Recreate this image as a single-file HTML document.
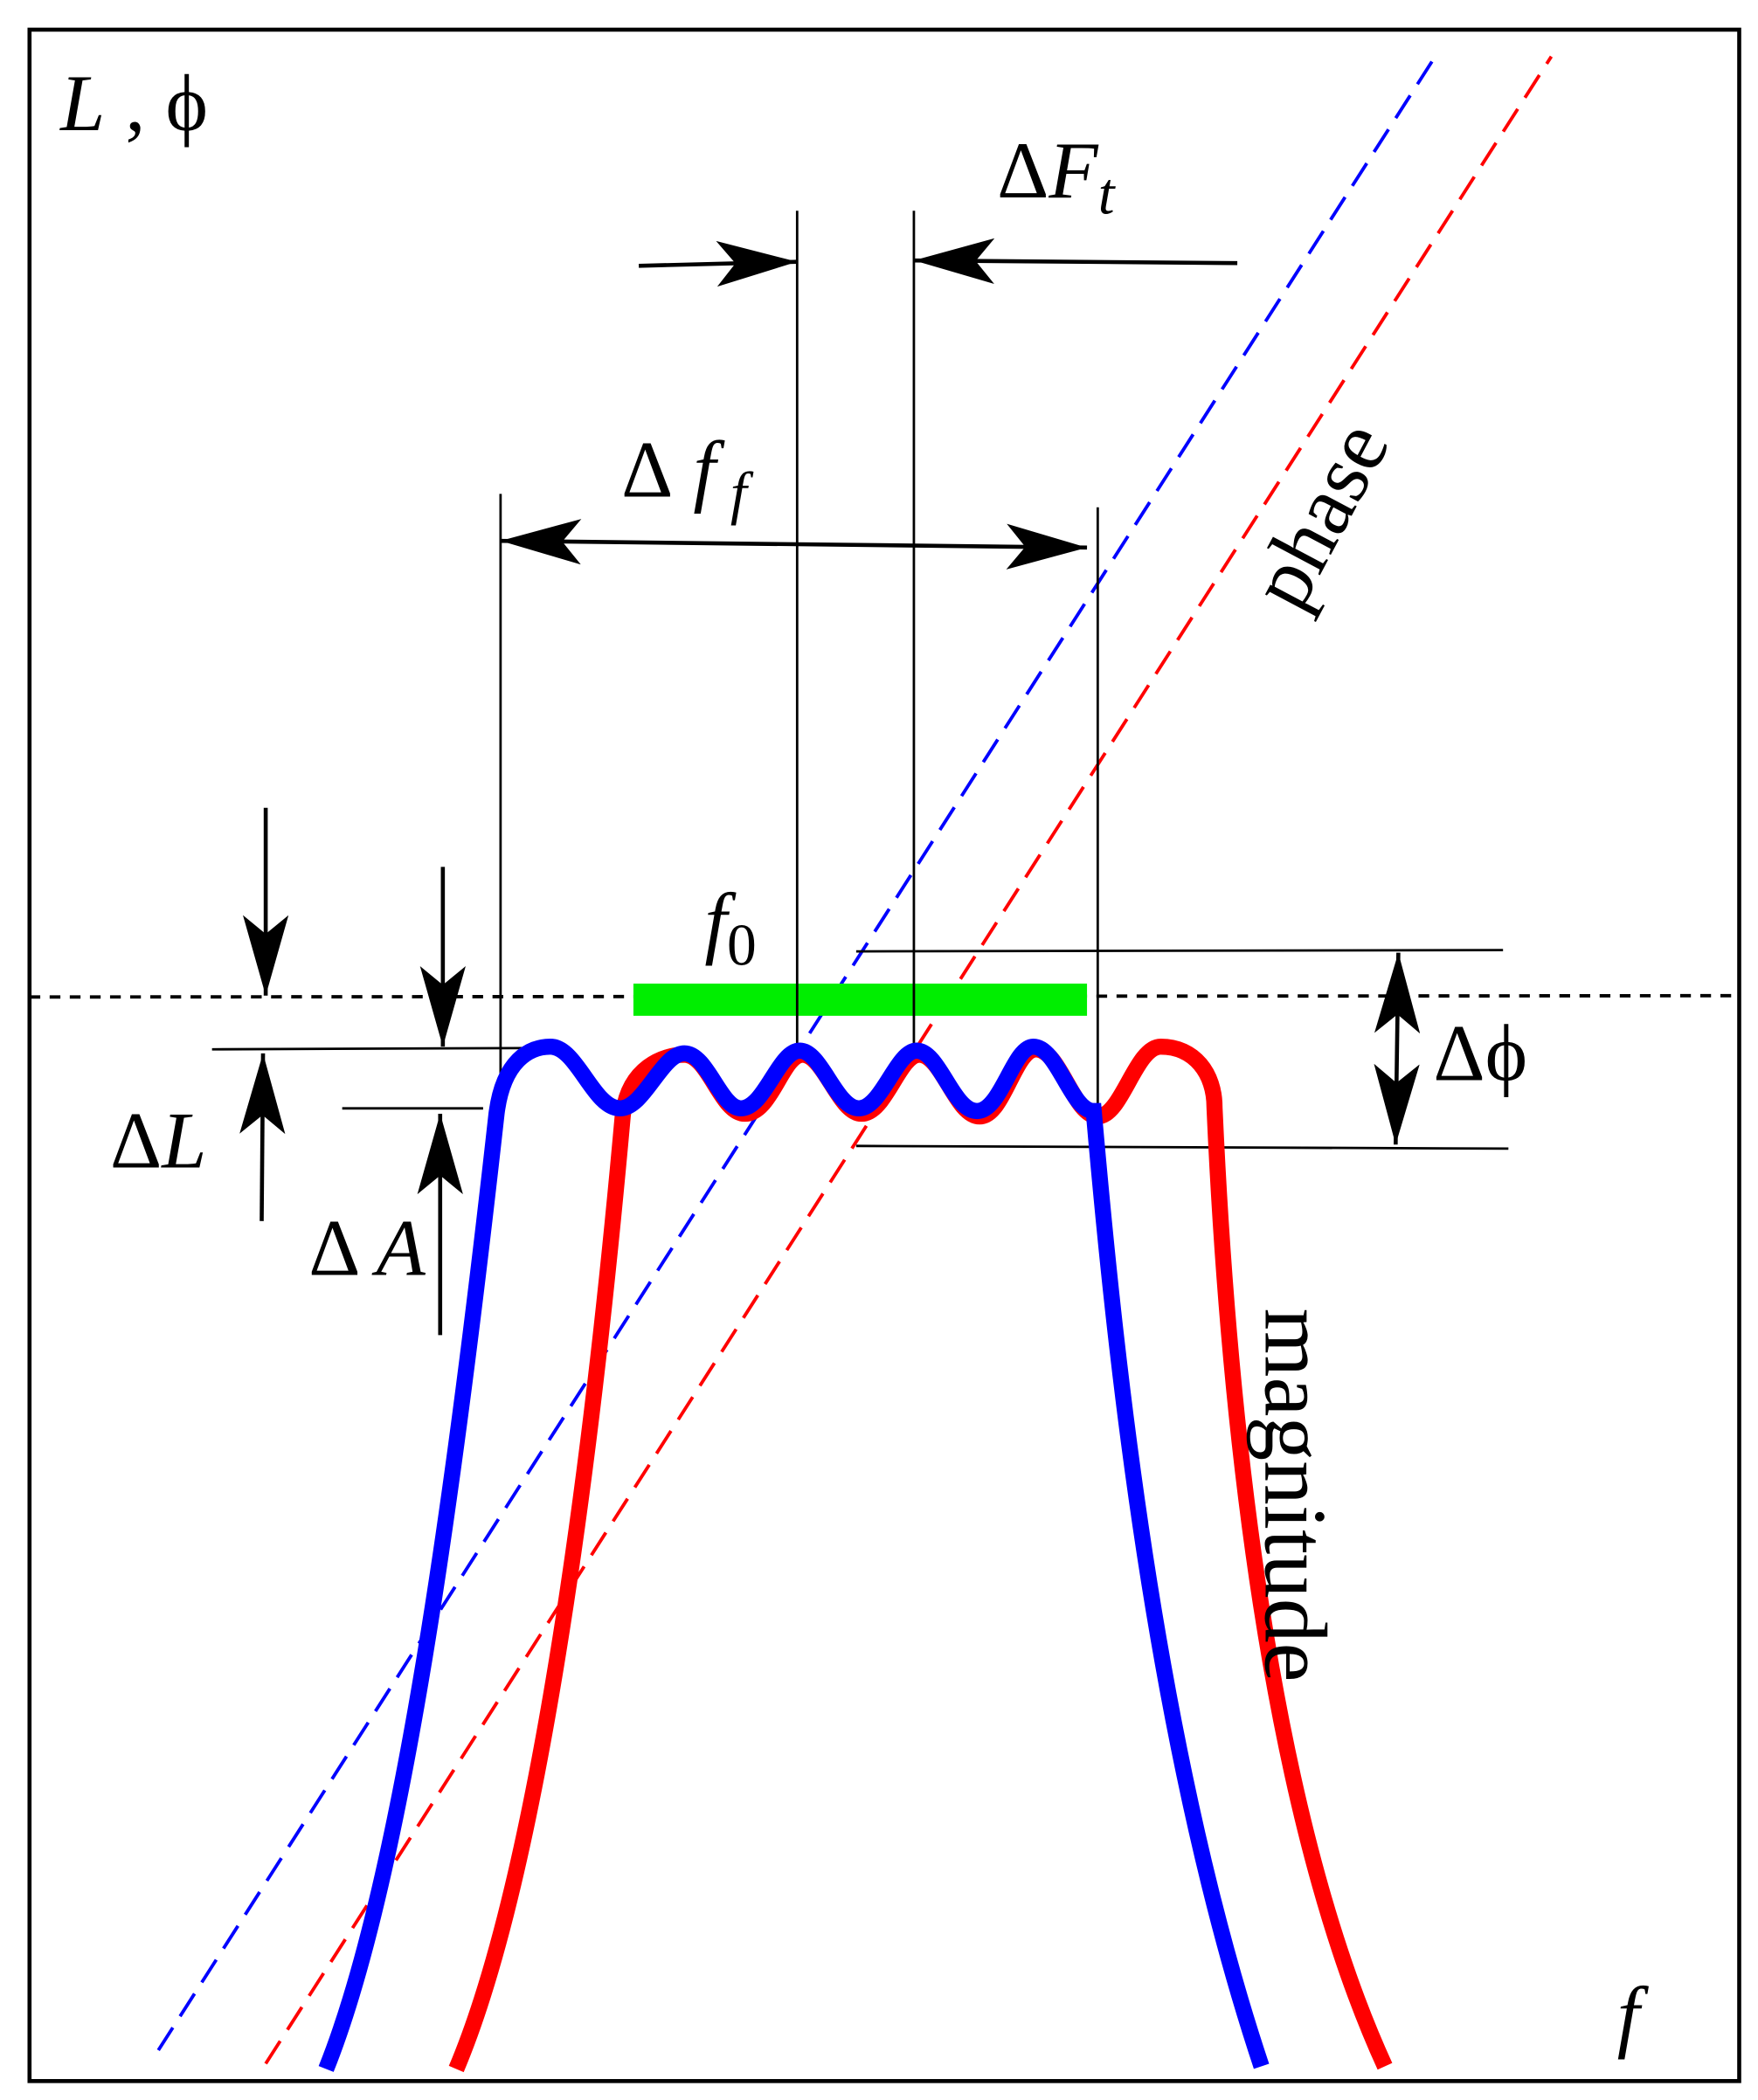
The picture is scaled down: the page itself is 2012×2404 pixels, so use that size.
<!DOCTYPE html>
<html><head><meta charset="utf-8"><style>html,body{margin:0;padding:0;background:#fff}svg{display:block}</style></head>
<body>
<svg width="2012" height="2404" viewBox="0 0 1310 1565" xmlns="http://www.w3.org/2000/svg" font-family="Liberation Serif, serif">
<defs>
<marker id="ahb" viewBox="0 0 60 34" refX="60" refY="17" markerWidth="60" markerHeight="34" markerUnits="userSpaceOnUse" orient="auto">
<path d="M0,0 L60,17 L0,34 L14,17 Z" fill="#000"/></marker>
<marker id="ahs" viewBox="0 0 60 34" refX="0" refY="17" markerWidth="60" markerHeight="34" markerUnits="userSpaceOnUse" orient="auto">
<path d="M60,0 L0,17 L60,34 L46,17 Z" fill="#000"/></marker>
</defs>
<rect x="22" y="22" width="1274" height="1529" fill="none" stroke="#000" stroke-width="3"/>
<line x1="22" y1="743" x2="1296" y2="742" stroke="#000" stroke-width="2.5" stroke-dasharray="8,7"/>
<line x1="118" y1="1528" x2="1072" y2="38" stroke="#00f" stroke-width="2.5" stroke-dasharray="20,10"/>
<line x1="198" y1="1538" x2="1156" y2="42" stroke="#f00" stroke-width="2.5" stroke-dasharray="20,10"/>
<rect x="472" y="733" width="338" height="24" fill="#0e0"/>
<g stroke="#000" stroke-width="1.8" fill="none">
<line x1="373" y1="368" x2="373" y2="830"/>
<line x1="594" y1="157" x2="594" y2="780"/>
<line x1="681" y1="157" x2="681" y2="780"/>
<line x1="818" y1="378" x2="818" y2="830"/>
<line x1="158" y1="782" x2="405" y2="781"/>
<line x1="255" y1="826" x2="360" y2="826"/>
<line x1="638" y1="709" x2="1120" y2="708"/>
<line x1="638" y1="854" x2="1124" y2="856"/>
</g>
<g stroke="#000" stroke-width="3" fill="none">
<line x1="373" y1="403" x2="810" y2="408" marker-end="url(#ahb)" marker-start="url(#ahs)"/>
<line x1="476" y1="198" x2="594" y2="195" marker-end="url(#ahb)"/>
<line x1="922" y1="196" x2="681" y2="194" marker-end="url(#ahb)"/>
<line x1="198" y1="602" x2="198" y2="742" marker-end="url(#ahb)"/>
<line x1="195" y1="910" x2="196" y2="785" marker-end="url(#ahb)"/>
<line x1="330" y1="646" x2="330" y2="780" marker-end="url(#ahb)"/>
<line x1="328" y1="995" x2="328" y2="830" marker-end="url(#ahb)"/>
<line x1="1042" y1="710" x2="1040" y2="853" marker-end="url(#ahb)" marker-start="url(#ahs)"/>
</g>
<path d="M340,1542 C400,1400 440,1100 464,832 C468,795 495,786 510,786 C528,786 537,830 555,830 C575,830 583,786 598,786 C614,786 625,830 642,830 C660,830 670,786 685,786 C702,786 712,832 730,832 C748,832 756,782 772,782 C790,782 800,832 818,832 C836,832 846,780 865,780 C890,780 905,800 905,825 C915,1050 945,1350 1032,1540" fill="none" stroke="#f00" stroke-width="12"/>
<path d="M243,1542 C300,1400 340,1100 370,830 C375,790 395,780 410,780 C430,780 442,826 462,826 C480,826 493,785 510,785 C527,785 537,826 552,826 C570,826 580,783 596,783 C612,783 623,826 640,826 C657,826 668,783 683,783 C700,783 710,828 728,828 C746,828 755,780 770,780 C788,780 798,828 815,828 C830,1000 860,1300 940,1540" fill="none" stroke="#00f" stroke-width="12"/>
<g font-size="60" fill="#000">
<text x="45" y="97"><tspan font-style="italic">L</tspan> ,  ϕ</text>
<text x="743" y="147">Δ<tspan font-style="italic">F</tspan><tspan font-style="italic" font-size="44" dy="12">t</tspan></text>
<text x="463" y="370">Δ<tspan font-style="italic"> f</tspan><tspan font-style="italic" font-size="44" dy="12"> f</tspan></text>
<text x="525" y="707" font-style="italic">f<tspan font-style="normal" font-size="44" dy="12">0</tspan></text>
<text x="82" y="870">Δ<tspan font-style="italic">L</tspan></text>
<text x="230" y="950">Δ <tspan font-style="italic">A</tspan></text>
<text x="1068" y="805">Δϕ</text>
<text x="1205" y="1522" font-style="italic">f</text>
<text transform="translate(968,458) rotate(-62)" font-size="64">phase</text>
<text transform="translate(943,975) rotate(90)" font-size="66">magnitude</text>
</g>
</svg>
</body></html>
